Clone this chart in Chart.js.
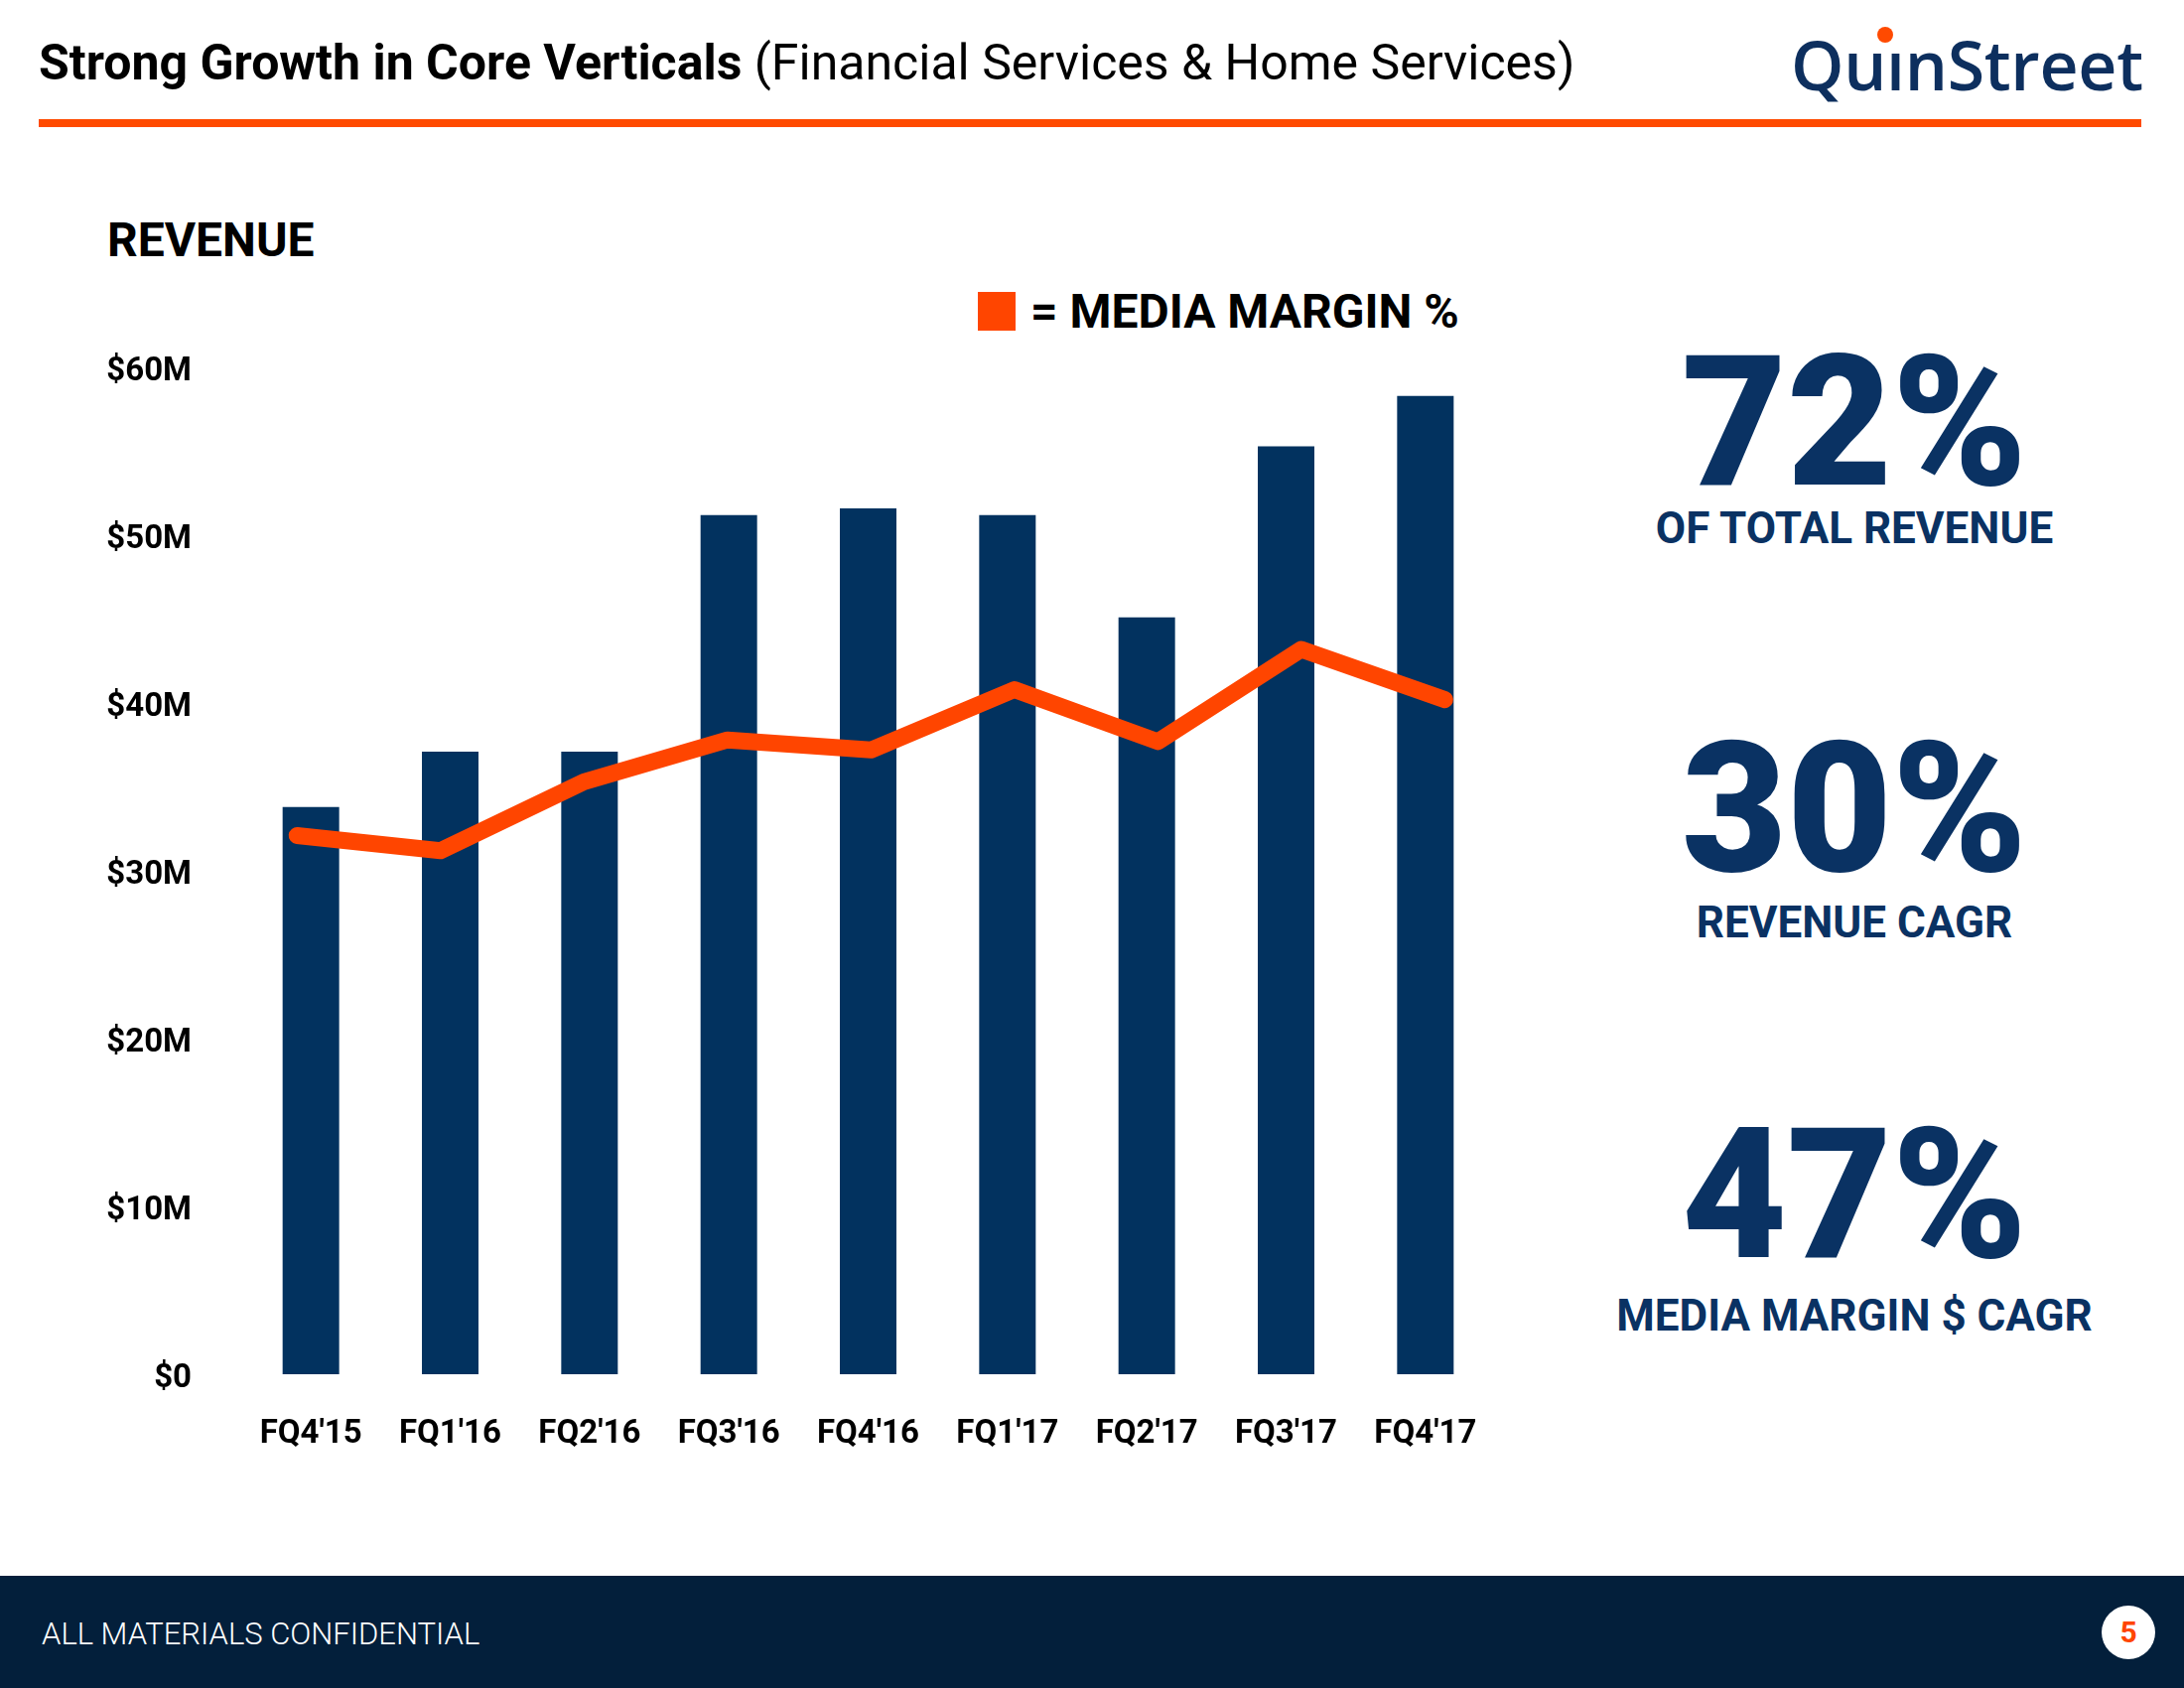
<!DOCTYPE html>
<html>
<head>
<meta charset="utf-8">
<script src="https://cdn.jsdelivr.net/npm/chart.js@4.4.0/dist/chart.umd.min.js"></script>
<style>
  html, body { margin: 0; padding: 0; }
  body { width: 2200px; height: 1700px; position: relative; background: #fff; overflow: hidden;
         font-family: Roboto, "Noto Sans", sans-serif; }
  .abs { position: absolute; line-height: 1; white-space: nowrap; }
  #title { left: 39px; top: 38px; font-size: 50px; color: #000; }
  #title b { font-weight: 700; }
  #title span { font-weight: 400; }
  #rule { left: 39px; top: 120px; width: 2118px; height: 8px; background: #ff4a00; }
  #logo { left: 1804px; top: 31px; font-family: "Open Sans", sans-serif; font-weight: 600;
          font-size: 68px; color: #0d2f5e; letter-spacing: -0.3px; }
  #logoDot { left: 1891px; top: 27px; width: 16px; height: 16px; border-radius: 50%; background: #ff4a00; }
  #revLabel { left: 108px; top: 218px; font-size: 48px; font-weight: 700; color: #000; }
  #legSwatch { left: 985px; top: 294px; width: 38px; height: 39px; background: #ff4500; }
  #legText { left: 1038px; top: 290px; font-size: 48px; font-weight: 700; color: #000; }
  .stat { left: 1568px; width: 600px; text-align: center; color: #0a3263; }
  .big { font-size: 183px; font-weight: 900; }
  .sub { font-size: 44px; font-weight: 700; }
  #chartBox { position: absolute; left: 100px; top: 340px; width: 1406px; height: 1120px; }
  #footer { left: 0; top: 1587px; width: 2200px; height: 113px; background: #031f3b; }
  #conf { left: 42px; top: 1630px; font-size: 31px; font-weight: 300; color: #fff; }
  #pageNo { left: 2117px; top: 1617px; width: 54px; height: 54px; border-radius: 50%; background: #fff;
            color: #ff4500; font-size: 30px; font-weight: 700; text-align: center; line-height: 54px; }
</style>
</head>
<body>
<div id="title" class="abs"><b>Strong Growth in Core Verticals</b> <span>(Financial Services &amp; Home Services)</span></div>
<div id="logo" class="abs">QuınStreet</div>
<div id="logoDot" class="abs"></div>
<div id="rule" class="abs"></div>

<div id="revLabel" class="abs">REVENUE</div>
<div id="legSwatch" class="abs"></div>
<div id="legText" class="abs">= MEDIA MARGIN %</div>

<div id="chartBox"><canvas id="revChart"></canvas></div>

<div class="abs stat big" style="top:334px">72%</div>
<div class="abs stat sub" style="top:510px">OF TOTAL REVENUE</div>
<div class="abs stat big" style="top:723px">30%</div>
<div class="abs stat sub" style="top:907px">REVENUE CAGR</div>
<div class="abs stat big" style="top:1112px">47%</div>
<div class="abs stat sub" style="top:1303px">MEDIA MARGIN $ CAGR</div>

<div id="footer" class="abs"></div>
<div id="conf" class="abs">ALL MATERIALS CONFIDENTIAL</div>
<div id="pageNo" class="abs">5</div>

<script>
// ── Data ─────────────────────────────────────────────────────────────
const quarters   = ["FQ4'15", "FQ1'16", "FQ2'16", "FQ3'16", "FQ4'16",
                    "FQ1'17", "FQ2'17", "FQ3'17", "FQ4'17"];
const revenueM   = [33.8, 37.1, 37.1, 51.2, 51.6, 51.2, 45.1, 55.3, 58.3];   // $M
const marginLine = [32.1, 31.2, 35.3, 37.8, 37.2, 40.8, 37.7, 43.2, 40.2];   // media margin, drawn on revenue scale
const yTicks     = ['$0', '$10M', '$20M', '$30M', '$40M', '$50M', '$60M'];

const NAVY   = '#02325f';
const ORANGE = '#ff4500';
const tickFont = { family: 'Roboto', weight: '700', size: 33 };

// ── Chart ────────────────────────────────────────────────────────────
const ctx = document.getElementById('revChart').getContext('2d');
new Chart(ctx, {
  type: 'bar',
  data: {
    labels: quarters,
    datasets: [
      {
        type: 'line',
        label: 'Media Margin',
        data: marginLine.map(function(v, i) { return { x: i, y: v }; }),
        xAxisID: 'x2',
        borderColor: ORANGE,
        backgroundColor: ORANGE,
        borderWidth: 17,
        borderCapStyle: 'round',
        borderJoinStyle: 'round',
        pointRadius: 0,
        tension: 0,
        clip: false,
        order: 0
      },
      {
        label: 'Revenue',
        data: revenueM,
        backgroundColor: NAVY,
        grouped: false,
        barPercentage: 0.406,
        categoryPercentage: 1,
        order: 1
      }
    ]
  },
  options: {
    responsive: true,
    maintainAspectRatio: false,
    animation: false,
    layout: { padding: { top: 30, right: 0, bottom: 0, left: 0 } },
    plugins: { legend: { display: false }, tooltip: { enabled: false } },
    scales: {
      x: {
        offset: true,
        grid: { display: false, drawTicks: false },
        border: { display: false },
        afterFit: function(s) { s.height = 76; s.paddingLeft = 0; s.paddingRight = 0; },
        ticks: { color: '#000', font: tickFont, padding: 41, maxRotation: 0, autoSkip: false }
      },
      // line points sit on a slightly wider spread than the bars
      x2: {
        type: 'linear',
        display: false,
        offset: false,
        min: -0.389,
        max: 8.35,
        afterFit: function(s) { s.paddingLeft = 0; s.paddingRight = 0; }
      },
      y: {
        min: 0,
        max: 60,
        grid: { display: false, drawTicks: false },
        border: { display: false },
        afterFit: function(s) { s.width = 143; s.paddingTop = 0; s.paddingBottom = 0; },
        ticks: {
          stepSize: 10,
          color: '#000',
          font: tickFont,
          padding: 50,
          labelOffset: 5,
          callback: function(v) { return yTicks[Math.round(v / 10)]; }
        }
      }
    }
  }
});
</script>
</body>
</html>
